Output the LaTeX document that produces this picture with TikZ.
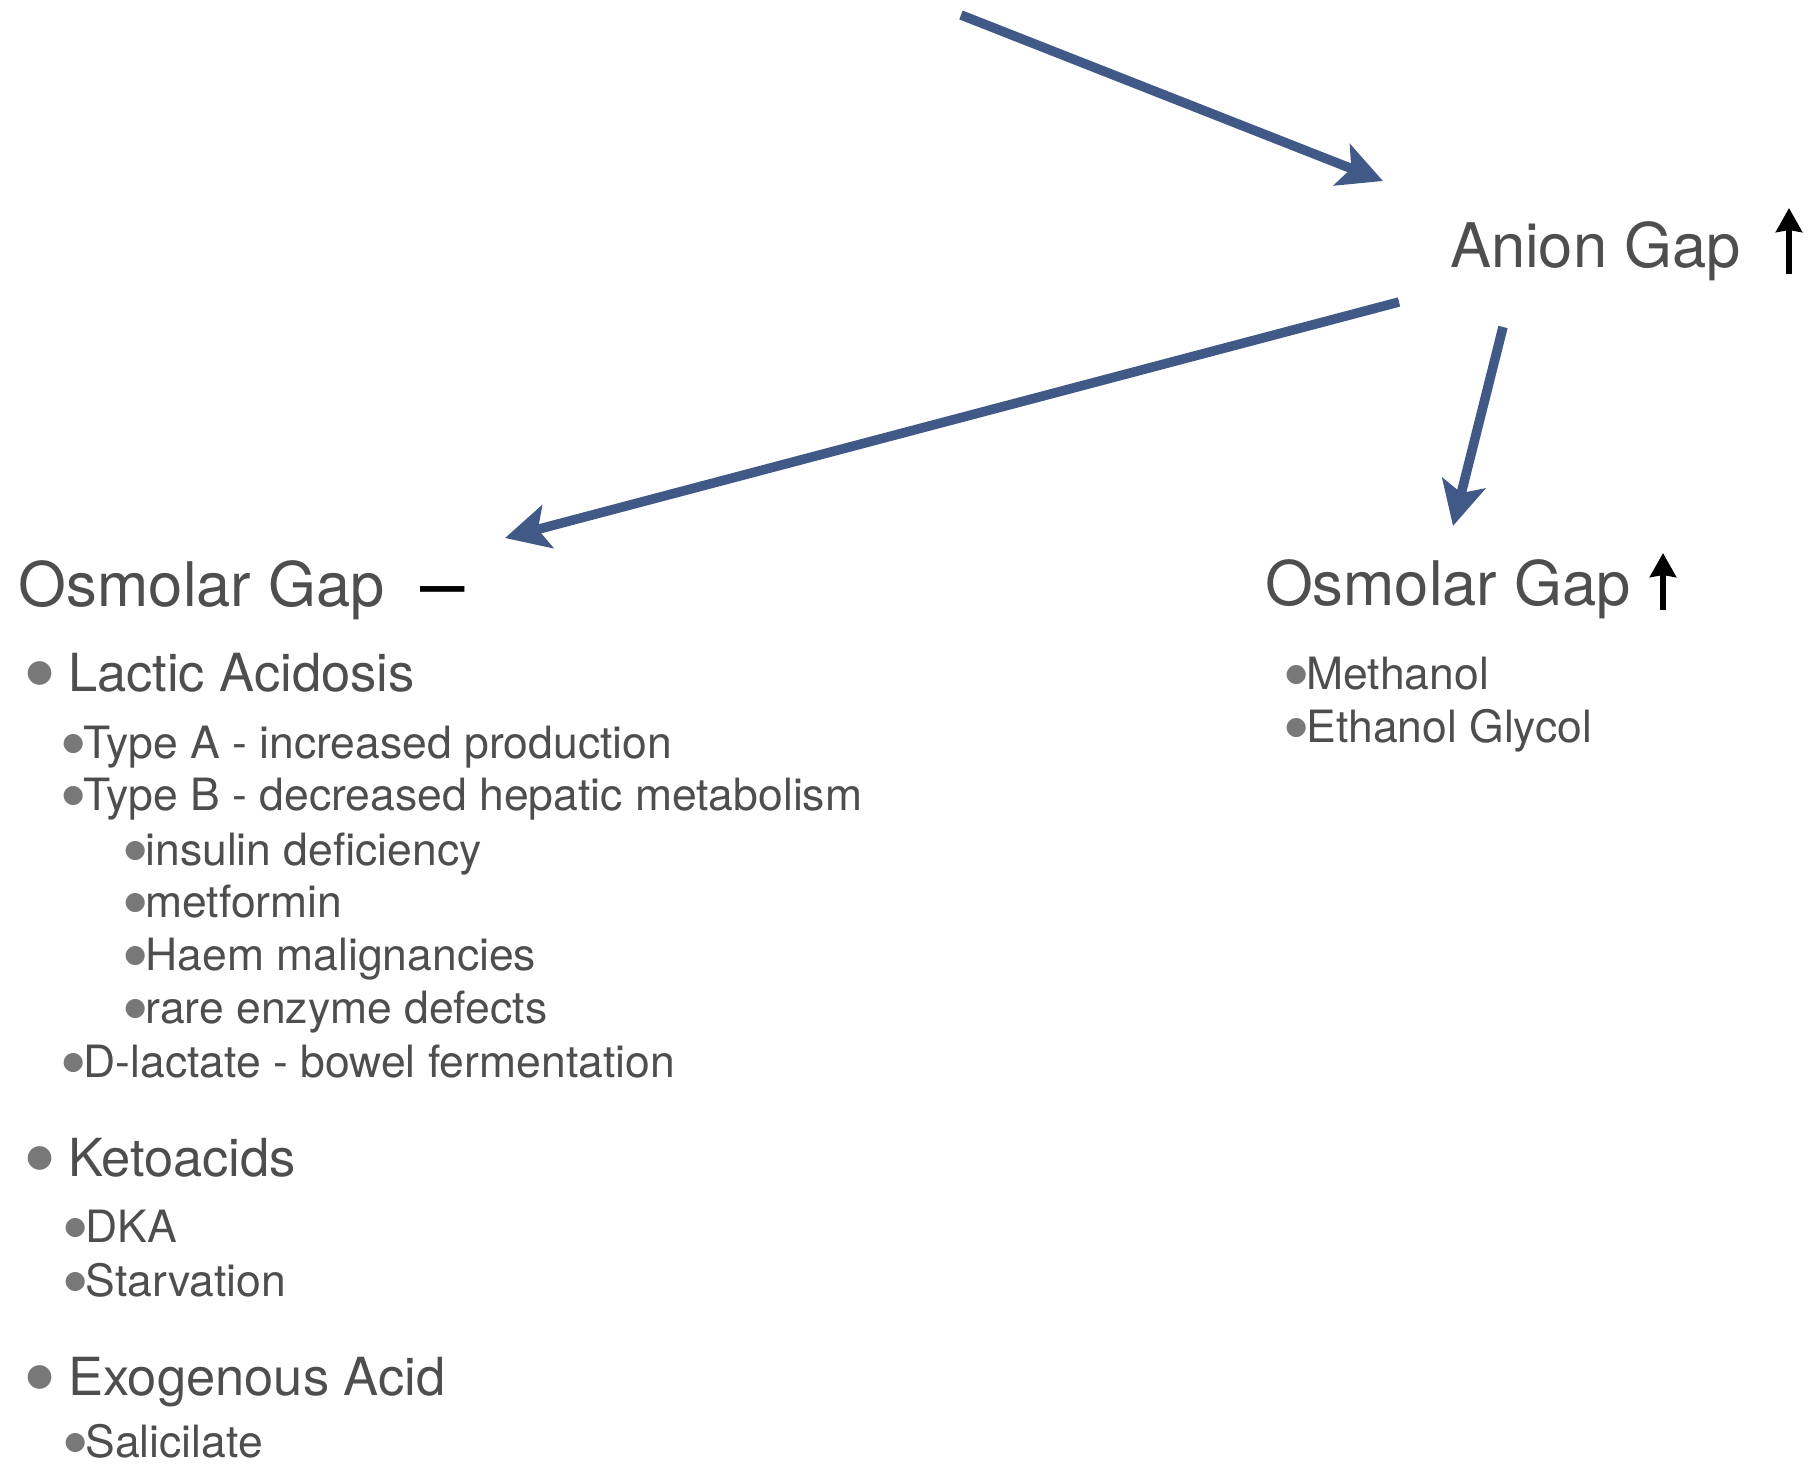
\documentclass[tikz,border=0pt]{standalone}
\usepackage{fontspec}
\setmainfont{TeX Gyre Heros}
\newfontfamily\symfont{DejaVu Sans}
\usetikzlibrary{arrows.meta}
\definecolor{txtgray}{RGB}{78,78,78}
\definecolor{bulgray}{RGB}{120,120,120}
\definecolor{arrowblue}{RGB}{64,89,135}
% #1 box width, #2 bullet font size, #3 raise
\newcommand{\bulx}[3]{\makebox[#1][c]{\raisebox{#3}{\color{bulgray}\symfont\fontsize{#2}{#2}\selectfont ●}}}
\newcommand{\bul}{\bulx{20.5pt}{25pt}{7.8pt}}
\newcommand{\bulone}{\bulx{24pt}{31pt}{9.8pt}}
\tikzset{
  txt/.style={inner sep=0pt, outer sep=0pt, anchor=base west, text=txtgray},
  title/.style={txt, font=\fontsize{61.5}{62}\selectfont},
  lvlone/.style={txt, font=\fontsize{52.5}{53}\selectfont},
  lvltwo/.style={txt, font=\fontsize{44.5}{45}\selectfont},
  flatdir/.style={inner sep=0pt, anchor=base west, text=black, font=\fontsize{80}{80}\selectfont},
  upsym/.style={draw=black, line width=6pt, -{Stealth[length=24pt,width=26pt,inset=2pt]}},
  conn/.style={draw=arrowblue, line width=9.5pt, -{Stealth[length=44pt,width=44pt,inset=10pt]}},
}
\begin{document}
\begin{tikzpicture}[x=1pt,y=-1pt]
\useasboundingbox (0,0) rectangle (1813,1464);
% titles
\node[title] (anion) at (1450,267) {Anion Gap};
\node[title] (osmL) at (19,606) {Osmolar Gap};
\node[flatdir] (osmLdash) at (420,611) {–};
\node[title] (osmR) at (1265,605) {Osmolar Gap};
% up symbols after the titles
\coordinate (anionUpB) at (1789,274);
\coordinate (anionUpT) at (1789,208);
\coordinate (osmRUpB) at (1663,610);
\coordinate (osmRUpT) at (1663,553);
\draw[upsym] (anionUpB) -- (anionUpT);
\draw[upsym] (osmRUpB) -- (osmRUpT);
% left list
\node[lvlone] (lactic) at (28,691) {\bulone\hspace{16pt}Lactic Acidosis};
\node[lvltwo] (typeA) at (63,758) {\bul Type A - increased production};
\node[lvltwo] (typeB) at (63,810) {\bul Type B - decreased hepatic metabolism};
\node[lvltwo] (insulin) at (125,865) {\bul insulin deficiency};
\node[lvltwo] (metf) at (125,917) {\bul metformin};
\node[lvltwo] (haem) at (125,970) {\bul Haem malignancies};
\node[lvltwo] (rare) at (125,1023) {\bul rare enzyme defects};
\node[lvltwo] (dlac) at (63,1077) {\bul D-lactate - bowel fermentation};
\node[lvlone] (keto) at (28,1176) {\bulone\hspace{16pt}Ketoacids};
\node[lvltwo] (dka) at (65,1242) {\bul DKA};
\node[lvltwo] (starv) at (65,1296) {\bul Starvation};
\node[lvlone] (exo) at (28,1395) {\bulone\hspace{16pt}Exogenous Acid};
\node[lvltwo, text depth=0pt] (sal) at (65,1457) {\bul Salicilate};
% right list
\node[lvltwo] (meth) at (1286,689) {\bul Methanol};
\node[lvltwo] (ethg) at (1286,742) {\bul Ethanol Glycol};
% connector end points
\coordinate (src) at (961,15);
\coordinate (anionIn) at (1383,181);
\coordinate (anionOutL) at (1399,302);
\coordinate (anionOutR) at (1503,327);
\coordinate (osmLIn) at (505,538);
\coordinate (osmRIn) at (1453,526);
\draw[conn] (src) -- (anionIn);
\draw[conn] (anionOutL) -- (osmLIn);
\draw[conn] (anionOutR) -- (osmRIn);
\end{tikzpicture}
\end{document}
